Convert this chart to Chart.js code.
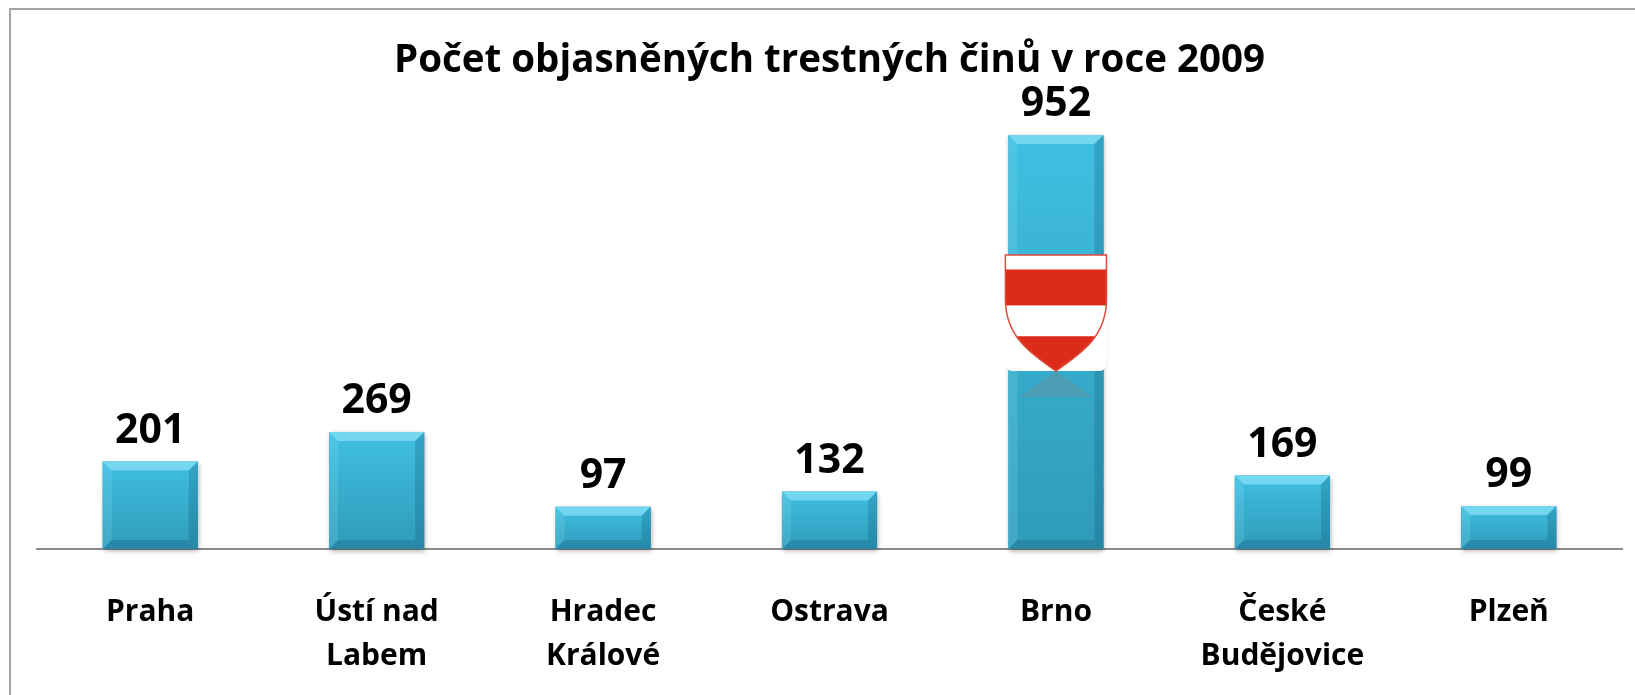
<!DOCTYPE html>
<html>
<head>
<meta charset="utf-8">
<script src="https://cdn.jsdelivr.net/npm/chart.js@4/dist/chart.umd.min.js"></script>
<style>
html, body { margin: 0; padding: 0; background: #fff; }
#wrap { width: 1635px; height: 695px; position: relative; }
</style>
</head>
<body>
<div id="wrap"><canvas id="chart"></canvas></div>
<script>
// data
const cities = ['Praha', ['Ústí nad', 'Labem'], ['Hradec', 'Králové'], 'Ostrava', 'Brno', ['České', 'Budějovice'], 'Plzeň'];
const solvedCrimes = [201, 269, 97, 132, 952, 169, 99];
const chartTitle = 'Počet objasněných trestných činů v roce 2009';
const shieldCity = 'Brno';

const FONT = '"Open Sans", Lato, sans-serif';

// grey frame along the top and left edge
const framePlugin = {
    id: 'frame',
    beforeDraw(chart) {
        const c = chart.ctx;
        c.save();
        c.strokeStyle = '#a4a4a4';
        c.lineWidth = 2;
        c.beginPath();
        c.moveTo(10, chart.height);
        c.lineTo(10, 9);
        c.lineTo(chart.width, 9);
        c.stroke();
        c.restore();
    }
};

function drawBevel(c, l, r, t, b) {
    const s = Math.min(9, (b - t) / 3);
    c.fillStyle = 'rgba(170,240,255,0.5)';
    c.beginPath();
    c.moveTo(l, t); c.lineTo(r, t); c.lineTo(r - s, t + s); c.lineTo(l + s, t + s);
    c.closePath(); c.fill();
    c.fillStyle = 'rgba(140,225,245,0.2)';
    c.beginPath();
    c.moveTo(l, t); c.lineTo(l + s, t + s); c.lineTo(l + s, b - s); c.lineTo(l, b);
    c.closePath(); c.fill();
    c.fillStyle = 'rgba(0,60,90,0.2)';
    c.beginPath();
    c.moveTo(r, t); c.lineTo(r - s, t + s); c.lineTo(r - s, b - s); c.lineTo(r, b);
    c.closePath(); c.fill();
    c.fillStyle = 'rgba(0,50,80,0.18)';
    c.beginPath();
    c.moveTo(l, b); c.lineTo(l + s, b - s); c.lineTo(r - s, b - s); c.lineTo(r, b);
    c.closePath(); c.fill();
}

function drawShield(c, cx, w, top, h) {
    const L = cx - w / 2, R = cx + w / 2, B = top + h;
    // white rounded card
    c.fillStyle = '#ffffff';
    c.beginPath();
    c.roundRect(L, top, w, h, 7);
    c.fill();
    // shield outline path
    const shield = new Path2D();
    shield.moveTo(L, top);
    shield.lineTo(R, top);
    shield.lineTo(R, top + 0.38 * h);
    shield.bezierCurveTo(R, top + 0.72 * h, cx + 0.22 * w, top + 0.86 * h, cx, B);
    shield.bezierCurveTo(cx - 0.22 * w, top + 0.86 * h, L, top + 0.72 * h, L, top + 0.38 * h);
    shield.closePath();
    c.save();
    c.clip(shield);
    c.fillStyle = '#ffffff';
    c.fillRect(L, top, w, h);
    c.fillStyle = '#dc2b19';
    c.fillRect(L, top + 0.124 * h, w, 0.31 * h);
    c.fillRect(L, top + 0.70 * h, w, 0.31 * h);
    c.restore();
    c.strokeStyle = '#e04a3a';
    c.lineWidth = 1.5;
    c.stroke(shield);
    // faint reflection under the shield
    c.fillStyle = 'rgba(110,140,150,0.4)';
    c.beginPath();
    c.moveTo(cx, B);
    c.lineTo(R - 14, B + 26);
    c.lineTo(L + 14, B + 26);
    c.closePath();
    c.fill();
}

const barLookPlugin = {
    id: 'barLook',
    afterDatasetsDraw(chart) {
        const c = chart.ctx;
        const meta = chart.getDatasetMeta(0);
        c.save();
        meta.data.forEach((bar, i) => {
            const l = bar.x - bar.width / 2, r = bar.x + bar.width / 2;
            const t = bar.y, b = bar.base;
            const g = c.createLinearGradient(0, t, 0, b);
            g.addColorStop(0, '#40bfe2');
            g.addColorStop(1, '#2f9bb9');
            c.save();
            c.shadowColor = 'rgba(0,0,0,0.35)';
            c.shadowBlur = 5;
            c.shadowOffsetX = 1;
            c.shadowOffsetY = 2;
            c.fillStyle = g;
            c.fillRect(l, t, r - l, b - t);
            c.restore();
            drawBevel(c, l, r, t, b);
            if (chart.data.labels[i] === shieldCity) {
                const h = b - t;
                drawShield(c, bar.x, bar.width + 6, t + 0.29 * h, 0.28 * h);
            }
        });
        // value labels above the bars
        c.fillStyle = '#000';
        c.font = 'bold 41px ' + FONT;
        c.textAlign = 'center';
        c.textBaseline = 'alphabetic';
        meta.data.forEach((bar, i) => {
            c.fillText(String(solvedCrimes[i]), bar.x, bar.y - 19);
        });
        c.restore();
    }
};

new Chart(document.getElementById('chart'), {
    type: 'bar',
    data: {
        labels: cities,
        datasets: [{
            data: solvedCrimes,
            backgroundColor: '#38acce',
            borderWidth: 0,
            barPercentage: 0.42,
            categoryPercentage: 1
        }]
    },
    options: {
        responsive: true,
        maintainAspectRatio: false,
        animation: false,
        layout: { padding: { left: 37, right: 13, top: 0, bottom: 0 } },
        plugins: {
            legend: { display: false },
            tooltip: { enabled: false },
            title: {
                display: true,
                text: chartTitle,
                color: '#000',
                font: { family: FONT, size: 38.5, weight: 'bold', lineHeight: 1.2 },
                padding: { top: 38, bottom: 30 }
            }
        },
        scales: {
            x: {
                grid: { display: false, drawTicks: false },
                border: { display: true, color: '#8a8a8a', width: 2 },
                ticks: {
                    color: '#000',
                    font: { family: FONT, size: 30, weight: 'bold', lineHeight: 1.47 },
                    padding: 41,
                    maxRotation: 0,
                    autoSkip: false
                },
                afterFit(scale) { scale.height = 146; }
            },
            y: {
                display: false,
                min: 0,
                max: 1000
            }
        }
    },
    plugins: [framePlugin, barLookPlugin]
});
</script>
</body>
</html>
